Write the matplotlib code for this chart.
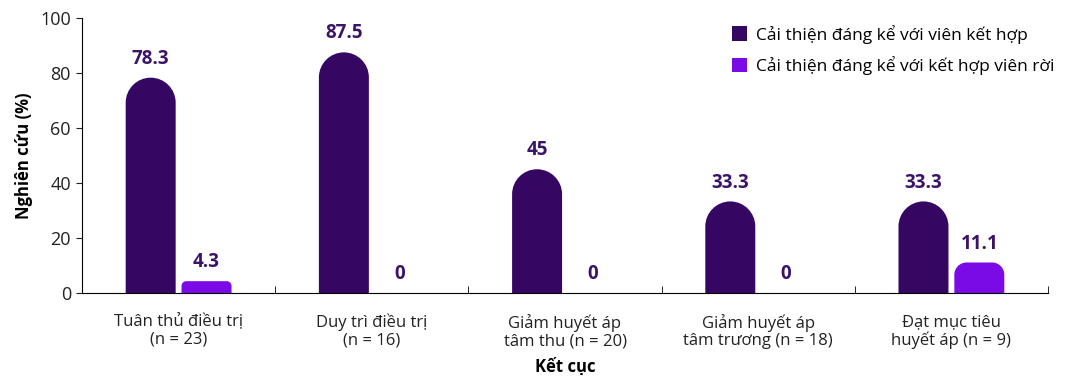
import matplotlib
matplotlib.use("Agg")
import matplotlib.pyplot as plt
from matplotlib.path import Path
from matplotlib.patches import PathPatch, Patch
import numpy as np

categories = ["Tuân thủ điều trị\n(n = 23)", "Duy trì điều trị\n(n = 16)",
              "Giảm huyết áp\ntâm thu (n = 20)", "Giảm huyết áp\ntâm trương (n = 18)",
              "Đạt mục tiêu\nhuyết áp (n = 9)"]
series_names = ["Cải thiện đáng kể với viên kết hợp",
                "Cải thiện đáng kể với kết hợp viên rời"]
combo_values = [78.3, 87.5, 45, 33.3, 33.3]
free_values = [4.3, 0, 0, 0, 11.1]
labels_combo = ["78.3", "87.5", "45", "33.3", "33.3"]
labels_free = ["4.3", "0", "0", "0", "11.1"]

DARK = "#360663"
LIGHT = "#7B0BE6"
LABEL_C = "#3B1468"

plt.rcParams['font.family'] = ['Open Sans', 'Noto Sans', 'DejaVu Sans']

fig = plt.figure(figsize=(10.75, 3.8), dpi=100)
ax = fig.add_axes([82/1075, 1-293/380, (1048-82)/1075, 275/380])

x = np.arange(len(categories))
w = 0.2587
off = 0.1445
ax.set_xlim(-0.5, len(categories)-0.5)
ax.set_ylim(0, 100)

bars1 = ax.bar(x - off, combo_values, w, color=DARK, label=series_names[0])
bars2 = ax.bar(x + off, free_values, w, color=LIGHT, label=series_names[1])

fig.canvas.draw()
p0 = ax.transData.transform((0, 0))
p1 = ax.transData.transform((1, 1))
sx, sy = p1[0]-p0[0], p1[1]-p0[1]
K = 0.5523

def rounded(bar, color):
    x0 = bar.get_x(); bw = bar.get_width(); h = bar.get_height()
    bar.set_visible(False)
    if h <= 0:
        return
    x1 = x0 + bw
    wpx = bw * sx; hpx = h * sy
    r = min(wpx/2, 0.4*hpx)
    rx, ry = r/sx, r/sy
    verts = [(x0, 0), (x0, h-ry),
             (x0, h-ry+K*ry), (x0+rx-K*rx, h), (x0+rx, h),
             (x1-rx, h),
             (x1-rx+K*rx, h), (x1, h-ry+K*ry), (x1, h-ry),
             (x1, 0), (x0, 0)]
    codes = [Path.MOVETO, Path.LINETO,
             Path.CURVE4, Path.CURVE4, Path.CURVE4,
             Path.LINETO,
             Path.CURVE4, Path.CURVE4, Path.CURVE4,
             Path.LINETO, Path.CLOSEPOLY]
    ax.add_patch(PathPatch(Path(verts, codes), facecolor=color, edgecolor='none', zorder=2))

for b in bars1:
    rounded(b, DARK)
for b in bars2:
    rounded(b, LIGHT)

for xi, v, t in zip(x - off, combo_values, labels_combo):
    ax.annotate(t, (xi, v), xytext=(0, 10), textcoords='offset points',
                ha='center', va='baseline', fontsize=13.5, fontweight='bold', color=LABEL_C)
for xi, v, t in zip(x + off, free_values, labels_free):
    ax.annotate(t, (xi, v), xytext=(0, 10), textcoords='offset points',
                ha='center', va='baseline', fontsize=13.5, fontweight='bold', color=LABEL_C)

ax.spines['top'].set_visible(False)
ax.spines['right'].set_visible(False)
ax.set_yticks([0, 20, 40, 60, 80, 100])
ax.tick_params(axis='y', labelsize=13, length=4, direction='out', colors='#222222', pad=4)
ax.set_xticks(x)
ax.set_xticklabels(categories, fontsize=12, color='#222222', linespacing=1.1)
ax.tick_params(axis='x', length=0, pad=15)
ax.set_xticks(np.arange(len(categories)+1) - 0.5, minor=True)
ax.tick_params(axis='x', which='minor', length=5, direction='in')
ax.set_ylabel("Nghiên cứu (%)", fontsize=12, fontweight='bold', labelpad=5)
ax.set_xlabel("Kết cục", fontsize=12, fontweight='bold', labelpad=6)

handles = [Patch(facecolor=DARK), Patch(facecolor=LIGHT)]
ax.legend(handles, series_names, loc='upper left', bbox_to_anchor=(716/1075, 1-9/380),
          bbox_transform=fig.transFigure, frameon=False, fontsize=12.5,
          handlelength=0.9, handleheight=0.9, handletextpad=0.5, labelspacing=0.7)

fig.savefig("out.png", dpi=100)
